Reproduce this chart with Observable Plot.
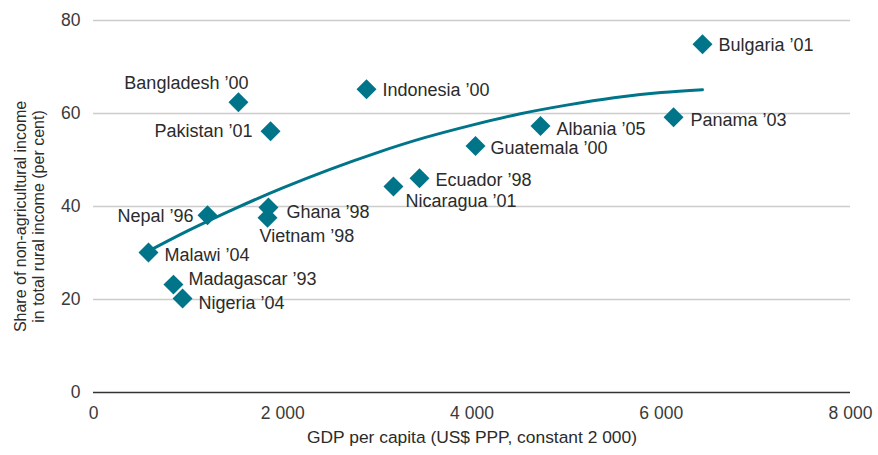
<!DOCTYPE html>
<html>
<head>
<meta charset="utf-8">
<script src="https://cdn.jsdelivr.net/npm/d3@7"></script>
<script src="https://cdn.jsdelivr.net/npm/@observablehq/plot@0.6"></script>
<style>
  html, body { margin: 0; padding: 0; background: #fff; }
  #chart { width: 878px; height: 455px; }
</style>
</head>
<body>
<div id="chart"></div>
<script>
// Countries (label), GDP per capita (US$ PPP, constant 2000), share of non-agricultural income (%)
const countries = ["Bulgaria ’01", "Panama ’03", "Albania ’05", "Guatemala ’00", "Ecuador ’98", "Nicaragua ’01",
  "Indonesia ’00", "Bangladesh ’00", "Pakistan ’01", "Ghana ’98", "Vietnam ’98", "Nepal ’96",
  "Malawi ’04", "Madagascar ’93", "Nigeria ’04"];
const gdp = [6436, 6130, 4724, 4037, 3445, 3170, 2885, 1532, 1871, 1849, 1839, 1205, 581, 845, 941];
const share = [74.9, 59.2, 57.3, 53.0, 46.1, 44.3, 65.2, 62.4, 56.2, 39.8, 37.6, 38.1, 30.1, 23.2, 20.2];

// Trend curve
const trendX = [581, 1000, 1500, 2000, 2500, 3000, 3500, 4000, 4500, 5000, 5500, 6000, 6436];
const trendY = [30.4, 34.8, 39.6, 44.0, 48.0, 51.6, 54.8, 57.5, 59.9, 61.8, 63.4, 64.5, 65.1];

const xTicks = [0, 2000, 4000, 6000, 8000];
const yTicks = [0, 20, 40, 60, 80];

// Label placement (layout only)
const labelPlacement = {
  "Bulgaria ’01": [16, 1, "start"],
  "Panama ’03": [17, 3, "start"],
  "Albania ’05": [16, 3, "start"],
  "Guatemala ’00": [15, 2, "start"],
  "Ecuador ’98": [16, 2, "start"],
  "Nicaragua ’01": [12, 15, "start"],
  "Indonesia ’00": [16, 1, "start"],
  "Bangladesh ’00": [10, -19, "end"],
  "Pakistan ’01": [-18, 0, "end"],
  "Ghana ’98": [18, 5, "start"],
  "Vietnam ’98": [-8, 19, "start"],
  "Nepal ’96": [-14, 1, "end"],
  "Malawi ’04": [16, 3, "start"],
  "Madagascar ’93": [15, -5, "start"],
  "Nigeria ’04": [16, 5, "start"]
};

const points = countries.map((c, i) => ({name: c, gdp: gdp[i], share: share[i]}));
const trend = trendX.map((x, i) => ({x, y: trendY[i]}));

const teal = "#007589";
const textColor = "#2b2b2b";
const fmt = d => d === 0 ? "0" : d3.format(",")(d).replace(/,/g, " ");

const labelMarks = points.map(p => {
  const [dx, dy, anchor] = labelPlacement[p.name];
  return Plot.text([p], {x: "gdp", y: "share", text: "name", dx, dy, textAnchor: anchor,
    fill: textColor, fontSize: 18});
});

const chart = Plot.plot({
  width: 878,
  height: 455,
  marginLeft: 93,
  marginRight: 28,
  marginTop: 20,
  marginBottom: 63,
  style: {fontFamily: "'Liberation Sans', Arial, Helvetica, sans-serif", fontSize: "17.5px", color: "#3a3a3a", background: "#fff"},
  x: {domain: [0, 8000], ticks: xTicks, tickFormat: fmt, tickSize: 0, tickPadding: 14, label: null},
  y: {domain: [0, 80], ticks: yTicks, tickSize: 0, tickPadding: 13, label: null},
  marks: [
    Plot.ruleY(yTicks.filter(d => d > 0), {stroke: "#cccccc", strokeWidth: 1.5}),
    Plot.ruleY([0], {stroke: "#333", strokeWidth: 1.5}),
    Plot.line(trend, {x: "x", y: "y", stroke: teal, strokeWidth: 3, curve: "natural"}),
    Plot.dot(points, {x: "gdp", y: "share", symbol: "diamond2", r: 9, fill: teal, stroke: "none"}),
    ...labelMarks,
    Plot.text(["GDP per capita (US$ PPP, constant 2 000)"], {frameAnchor: "bottom", dy: 50, fontSize: 17.4, fill: textColor}),
    Plot.text(["Share of non-agricultural income"], {frameAnchor: "left", dx: -73, dy: 10, rotate: -90, textAnchor: "middle", fontSize: 16, fill: textColor}),
    Plot.text(["in total rural income (per cent)"], {frameAnchor: "left", dx: -55, dy: 10, rotate: -90, textAnchor: "middle", fontSize: 16, fill: textColor})
  ]
});
document.getElementById("chart").appendChild(chart);
</script>
</body>
</html>
